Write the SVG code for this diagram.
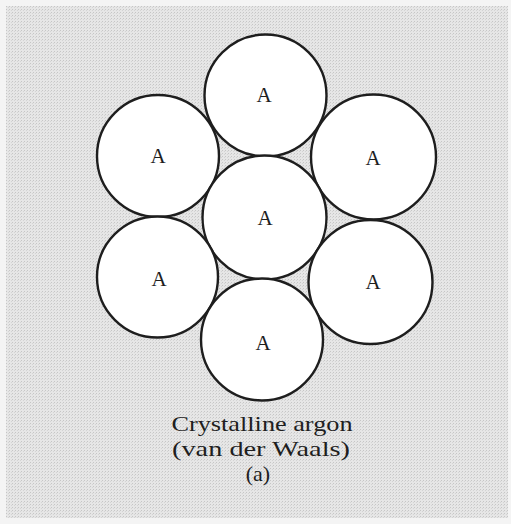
<svg xmlns="http://www.w3.org/2000/svg" width="511" height="524" viewBox="0 0 511 524">
<defs>
<pattern id="dots" width="3" height="3" patternUnits="userSpaceOnUse">
<rect width="3" height="3" fill="#e6e6e6"/>
<rect x="0" y="0" width="1" height="1" fill="#c6c6c6"/>
<rect x="2" y="1" width="1" height="1" fill="#d4d4d4"/>
</pattern>
<style>
.atom{fill:#fff;stroke:#1e1e1e;stroke-width:2.4}
.lbl{font-family:"Liberation Serif","Times New Roman",serif;font-size:21px;fill:#1e1e1e;text-anchor:middle}
.cap{font-family:"Liberation Serif","Times New Roman",serif;font-size:22px;fill:#1e1e1e;text-anchor:middle}
</style>
</defs>
<rect width="511" height="524" fill="#f4f4f4"/>
<rect x="6" y="6" width="502" height="512" fill="url(#dots)"/>
<g id="connectors"></g>
<g id="atom-top"><circle class="atom" cx="265.5" cy="95.5" r="61"/><text class="lbl" x="264" y="102">A</text></g>
<g id="atom-upper-left"><circle class="atom" cx="158" cy="156" r="61"/><text class="lbl" x="158" y="163">A</text></g>
<g id="atom-upper-right"><circle class="atom" cx="373.5" cy="157" r="62.5"/><text class="lbl" x="373" y="165">A</text></g>
<g id="atom-center"><circle class="atom" cx="264.5" cy="217.5" r="62"/><text class="lbl" x="265" y="225">A</text></g>
<g id="atom-lower-left"><circle class="atom" cx="157.5" cy="277" r="60.5"/><text class="lbl" x="159" y="286">A</text></g>
<g id="atom-lower-right"><circle class="atom" cx="370.5" cy="282" r="62"/><text class="lbl" x="373" y="289">A</text></g>
<g id="atom-bottom"><circle class="atom" cx="262" cy="339.5" r="61"/><text class="lbl" x="263" y="350">A</text></g>
<g id="caption">
<text class="cap" x="262" y="431" textLength="181" lengthAdjust="spacingAndGlyphs">Crystalline argon</text>
<text class="cap" x="261" y="456" textLength="178" lengthAdjust="spacingAndGlyphs">(van der Waals)</text>
<text class="cap" x="258" y="481">(a)</text>
</g>
</svg>
